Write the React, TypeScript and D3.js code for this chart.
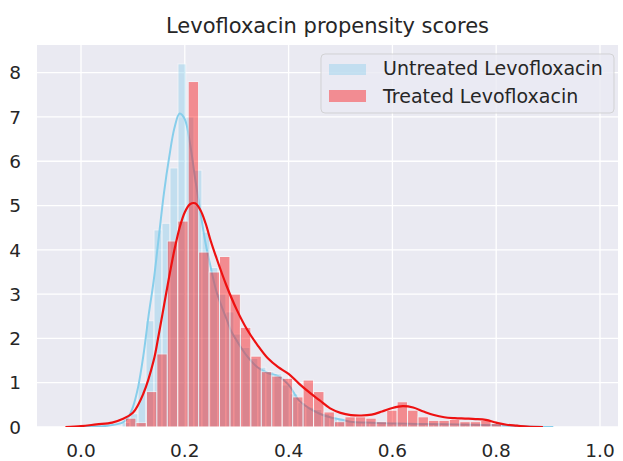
import React from 'react';
import * as d3 from 'd3';

const chartTitle = 'Levofloxacin propensity scores';
const seriesNames = ['Untreated Levofloxacin', 'Treated Levofloxacin'];
const xTicks = [0, 0.2, 0.4, 0.6, 0.8, 1.0];
const yTicks = [0, 1, 2, 3, 4, 5, 6, 7, 8];

// Histogram (density) — untreated
const untreatedBinStart = 0.079;
const untreatedBinWidth = 0.0154;
const untreatedDensity = [
  0.1, 0.3, 1.0, 2.4, 4.45, 4.6, 5.85, 8.2, 7.0, 5.8, 4.4, 3.6, 3.0, 2.6, 2.1, 1.8,
  1.55, 1.35, 1.25, 1.2, 0.95, 0.75, 0.55, 0.45, 0.4, 0.3, 0.22, 0.2, 0.15, 0.12,
  0.12, 0.1, 0.08, 0.1, 0.08, 0.06, 0.06, 0.07, 0.05, 0.06, 0.05, 0.04, 0.05, 0.04,
  0.03, 0.04,
];

// Histogram (density) — treated
const treatedBinStart = 0.0857;
const treatedBinWidth = 0.02013;
const treatedDensity = [
  0.2, 0.1, 0.8, 1.65, 4.2, 4.65, 7.8, 3.95, 3.5, 3.85, 3.0, 2.25, 1.6, 1.25, 1.15,
  1.1, 0.68, 1.06, 0.8, 0.34, 0.12, 0.23, 0.23, 0.2, 0.12, 0.38, 0.57, 0.38, 0.23,
  0.15, 0.15, 0.17, 0.12, 0.12, 0.15, 0.08,
];

// KDE — untreated
const untreatedKdeX = [
  -0.01, 0.02, 0.05, 0.08, 0.09, 0.1, 0.11, 0.12, 0.13, 0.14, 0.15, 0.16, 0.17, 0.18,
  0.19, 0.2, 0.21, 0.22, 0.23, 0.24, 0.25, 0.26, 0.27, 0.28, 0.29, 0.3, 0.32, 0.34,
  0.36, 0.38, 0.4, 0.42, 0.44, 0.46, 0.48, 0.5, 0.52, 0.55, 0.6, 0.65, 0.7, 0.75,
  0.8, 0.85, 0.88, 0.91,
];
const untreatedKdeY = [
  0, 0.01, 0.03, 0.1, 0.2, 0.45, 0.9, 1.6, 2.5, 3.3, 4.3, 5.3, 6.1, 6.75, 7.08, 6.95,
  6.4, 5.6, 4.85, 4.15, 3.6, 3.1, 2.75, 2.45, 2.15, 1.95, 1.6, 1.35, 1.22, 1.15, 0.95,
  0.6, 0.42, 0.3, 0.22, 0.17, 0.12, 0.1, 0.08, 0.07, 0.06, 0.05, 0.04, 0.02, 0.005, 0,
];

// KDE — treated
const treatedKdeX = [
  -0.03, 0.0, 0.03, 0.06, 0.08, 0.1, 0.12, 0.14, 0.15, 0.16, 0.17, 0.18, 0.19, 0.2,
  0.21, 0.22, 0.23, 0.24, 0.25, 0.26, 0.28, 0.3, 0.32, 0.34, 0.36, 0.38, 0.4, 0.42,
  0.44, 0.46, 0.48, 0.5, 0.52, 0.54, 0.56, 0.58, 0.6, 0.62, 0.64, 0.66, 0.68, 0.7,
  0.72, 0.74, 0.76, 0.78, 0.8, 0.82, 0.84, 0.86, 0.89,
];
const treatedKdeY = [
  0, 0.02, 0.06, 0.1, 0.18, 0.32, 0.75, 1.5, 2.1, 2.75, 3.4, 4.0, 4.5, 4.85, 5.03,
  5.05, 4.9, 4.6, 4.2, 3.85, 3.2, 2.65, 2.2, 1.85, 1.55, 1.35, 1.2, 0.98, 0.78, 0.6,
  0.42, 0.32, 0.27, 0.26, 0.28, 0.35, 0.43, 0.47, 0.44, 0.35, 0.27, 0.22, 0.2, 0.19,
  0.18, 0.16, 0.1, 0.05, 0.03, 0.01, 0,
];

const W = 623;
const H = 461;
const left = 37;
const right = 618;
const top = 45;
const bottom = 427;

const BG = '#EAEAF2';
const TEXT = '#262626';
const BLUE = '#87CEEB';
const RED = '#FF0000';
const FONT = 'DejaVu Sans, sans-serif';

export default function App() {
  const x = d3.scaleLinear().domain([-0.0848, 1.0347]).range([left, right]);
  const y = d3.scaleLinear().domain([0, 8.625]).range([bottom, top]);

  const line = d3
    .line<[number, number]>()
    .x((d) => x(d[0]))
    .y((d) => y(d[1]))
    .curve(d3.curveCatmullRom.alpha(0.5));

  const untreatedPts: [number, number][] = untreatedKdeX.map((v, i) => [v, untreatedKdeY[i]]);
  const treatedPts: [number, number][] = treatedKdeX.map((v, i) => [v, treatedKdeY[i]]);

  const bars = (start: number, width: number, vals: number[], color: string, key: string) =>
    vals.map((v, i) => {
      const x0 = x(start + i * width);
      const x1 = x(start + (i + 1) * width);
      return (
        <rect
          key={key + i}
          x={x0}
          y={y(v)}
          width={x1 - x0}
          height={y(0) - y(v)}
          fill={color}
          stroke="#ffffff"
          strokeWidth={1}
          opacity={0.4}
        />
      );
    });

  return (
    <svg
      width={W}
      height={H}
      style={{ position: 'absolute', left: 0, top: 0, display: 'block', background: '#fff' }}
      fontFamily={FONT}
    >
      <clipPath id="plotclip">
        <rect x={left} y={top} width={right - left} height={bottom - top} />
      </clipPath>
      <rect x={left} y={top} width={right - left} height={bottom - top} fill={BG} />
      {xTicks.map((t) => (
        <line key={'gx' + t} x1={x(t)} x2={x(t)} y1={top} y2={bottom} stroke="#fff" strokeWidth={1.3} />
      ))}
      {yTicks.map((t) => (
        <line key={'gy' + t} x1={left} x2={right} y1={y(t)} y2={y(t)} stroke="#fff" strokeWidth={1.3} />
      ))}
      <g clipPath="url(#plotclip)">
        {bars(untreatedBinStart, untreatedBinWidth, untreatedDensity, BLUE, 'u')}
        <path d={line(untreatedPts) || ''} fill="none" stroke={BLUE} strokeWidth={2} />
        {bars(treatedBinStart, treatedBinWidth, treatedDensity, RED, 't')}
        <path d={line(treatedPts) || ''} fill="none" stroke="#ee1111" strokeWidth={2.2} />
      </g>
      {xTicks.map((t) => (
        <text key={'tx' + t} x={x(t)} y={457} textAnchor="middle" fontSize={18.5} fill={TEXT}>
          {d3.format('.1f')(t)}
        </text>
      ))}
      {yTicks.map((t) => (
        <text key={'ty' + t} x={21} y={y(t) + 6.7} textAnchor="end" fontSize={18.5} fill={TEXT}>
          {t}
        </text>
      ))}
      <text x={(left + right) / 2} y={33} textAnchor="middle" fontSize={21} fill={TEXT}>
        {chartTitle}
      </text>
      <g>
        <rect x={321} y={54} width={293} height={59} rx={4} fill={BG} fillOpacity={0.8} stroke="#cccccc" strokeOpacity={0.8} />
        <rect x={329} y={64} width={37} height={11} fill={BLUE} opacity={0.4} />
        <rect x={329} y={90} width={37} height={12} fill={RED} opacity={0.4} />
        <text x={383} y={75} fontSize={19} fill={TEXT}>{seriesNames[0]}</text>
        <text x={383} y={102.5} fontSize={19} fill={TEXT}>{seriesNames[1]}</text>
      </g>
    </svg>
  );
}
